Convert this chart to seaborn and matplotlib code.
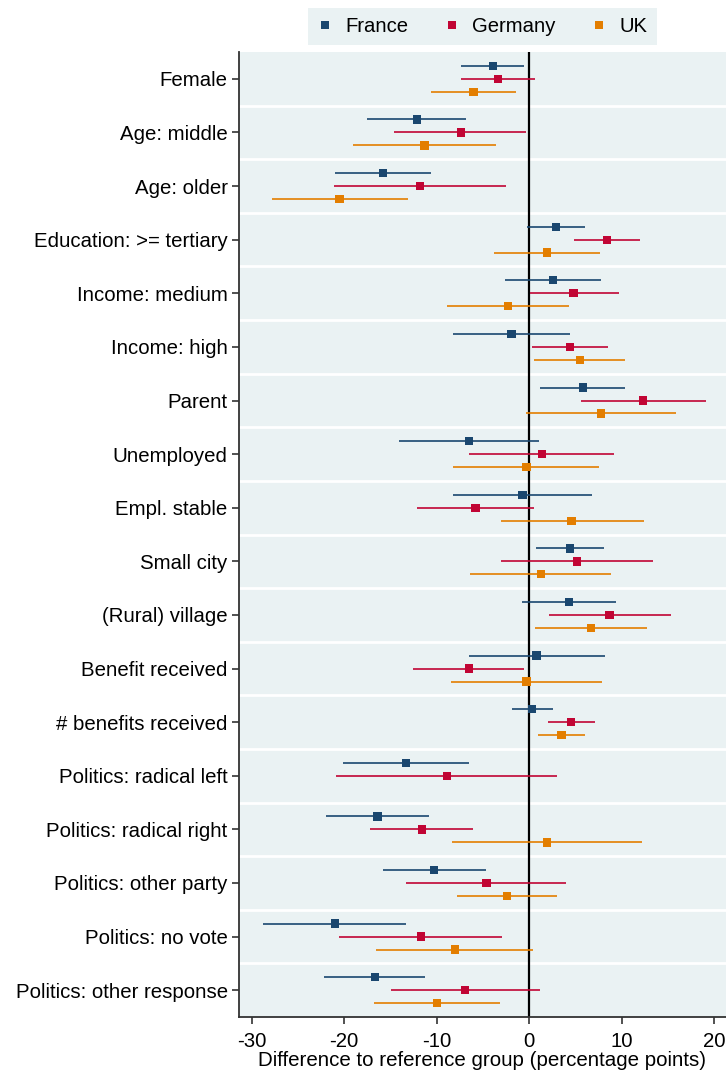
import numpy as np
import pandas as pd
import matplotlib
matplotlib.use("Agg")
import matplotlib.pyplot as plt
import seaborn as sns

# Covariates, top to bottom
categories = [
    "Female", "Age: middle", "Age: older", "Education: >= tertiary",
    "Income: medium", "Income: high", "Parent", "Unemployed",
    "Empl. stable", "Small city", "(Rural) village", "Benefit received",
    "# benefits received", "Politics: radical left", "Politics: radical right",
    "Politics: other party", "Politics: no vote", "Politics: other response",
]
countries = ["France", "Germany", "UK"]

# Point estimates and 95% confidence bounds (percentage points)
france_est = [-3.9, -12.1, -15.8, 2.9, 2.6, -1.9, 5.8, -6.5, -0.7, 4.4, 4.3, 0.8, 0.3, -13.3, -16.4, -10.3, -21.0, -16.7]
france_lo = [-7.4, -17.5, -21.0, -0.2, -2.6, -8.2, 1.2, -14.1, -8.2, 0.7, -0.8, -6.5, -1.9, -20.1, -22.0, -15.8, -28.8, -22.2]
france_hi = [-0.5, -6.8, -10.6, 6.1, 7.8, 4.4, 10.4, 1.1, 6.8, 8.1, 9.4, 8.2, 2.6, -6.5, -10.8, -4.7, -13.3, -11.3]

germany_est = [-3.4, -7.4, -11.8, 8.4, 4.8, 4.4, 12.3, 1.4, -5.8, 5.2, 8.7, -6.5, 4.5, -8.9, -11.6, -4.6, -11.7, -6.9]
germany_lo = [-7.4, -14.6, -21.1, 4.9, 0.1, 0.3, 5.6, -6.5, -12.1, -3.0, 2.1, -12.6, 2.0, -20.9, -17.2, -13.3, -20.6, -14.9]
germany_hi = [0.6, -0.3, -2.5, 12.0, 9.7, 8.5, 19.1, 9.2, 0.5, 13.4, 15.4, -0.5, 7.1, 3.0, -6.1, 4.0, -2.9, 1.2]

uk_est = [-6.0, -11.3, -20.5, 1.9, -2.3, 5.5, 7.8, -0.3, 4.6, 1.3, 6.7, -0.3, 3.5, np.nan, 1.9, -2.4, -8.0, -10.0]
uk_lo = [-10.6, -19.0, -27.8, -3.8, -8.9, 0.5, -0.3, -8.2, -3.0, -6.4, 0.6, -8.4, 1.0, np.nan, -8.3, -7.8, -16.6, -16.8]
uk_hi = [-1.4, -3.6, -13.1, 7.7, 4.3, 10.4, 15.9, 7.6, 12.4, 8.9, 12.8, 7.9, 6.1, np.nan, 12.2, 3.0, 0.4, -3.1]

palette = {"France": "#1a476f", "Germany": "#c10534", "UK": "#e37e00"}
offsets = {"France": -0.242, "Germany": 0.0, "UK": 0.242}

frames = []
for name, est, lo, hi in [
    ("France", france_est, france_lo, france_hi),
    ("Germany", germany_est, germany_lo, germany_hi),
    ("UK", uk_est, uk_lo, uk_hi),
]:
    frames.append(pd.DataFrame({
        "category": categories,
        "country": name,
        "est": est,
        "lo": lo,
        "hi": hi,
        "row": np.arange(len(categories)) + offsets[name],
    }))
df = pd.concat(frames, ignore_index=True).dropna()

sns.set_theme(style="white")
plt.rcParams["font.family"] = ["Liberation Sans", "DejaVu Sans"]
plt.rcParams["axes.unicode_minus"] = False
plt.rcParams["text.color"] = "black"
plt.rcParams["xtick.color"] = "black"
plt.rcParams["ytick.color"] = "black"
plt.rcParams["axes.labelcolor"] = "black"

fig = plt.figure(figsize=(7.26, 10.71), dpi=100)
ax = fig.add_axes([0.329, 0.0504, 0.671, 0.9010])
ax.set_facecolor("#eaf2f3")

# Group separators
for k in range(len(categories) - 1):
    ax.axhline(k + 0.5, color="white", lw=2.0, zorder=1)

# Reference line at zero
ax.axvline(0, color="black", lw=1.6, zorder=2)

# Confidence intervals
ax.hlines(df["row"], df["lo"], df["hi"],
          colors=df["country"].map(palette), lw=1.2, zorder=3)

# Point estimates
sns.scatterplot(data=df, x="est", y="row", hue="country", hue_order=countries,
                palette=palette, marker="s", s=36, linewidth=0, ax=ax,
                zorder=4, legend=True)

ax.set_xlim(-31.4, 21.3)
ax.set_ylim(len(categories) - 0.5, -0.5)
ax.set_xticks([-30, -20, -10, 0, 10, 20])
ax.set_yticks(np.arange(len(categories)))
ax.set_yticklabels(categories)
ax.tick_params(axis="y", length=5, width=1.2, color="#333333", labelsize=14.7, pad=3, left=True)
ax.tick_params(axis="x", length=5, width=1.2, color="#333333", labelsize=14.7, pad=5.5, bottom=True)
ax.set_xlabel("Difference to reference group (percentage points)", fontsize=14.8, labelpad=0.5)
ax.set_ylabel("")

for side in ["top", "right"]:
    ax.spines[side].set_visible(False)
for side in ["left", "bottom"]:
    ax.spines[side].set_color("#333333")
    ax.spines[side].set_linewidth(1.3)

handles, labels = ax.get_legend_handles_labels()
leg = ax.legend(handles, labels, loc="lower center", bbox_to_anchor=(0.5, 1.007),
                ncol=3, frameon=True, fancybox=False, fontsize=14.6,
                handlelength=0.8, handletextpad=0.6, columnspacing=1.75,
                borderaxespad=0, borderpad=0.45, markerscale=0.9)
leg.get_frame().set_facecolor("#eaf2f3")
leg.get_frame().set_edgecolor("none")
leg.get_frame().set_alpha(1)

fig.savefig("out.png", dpi=100)
